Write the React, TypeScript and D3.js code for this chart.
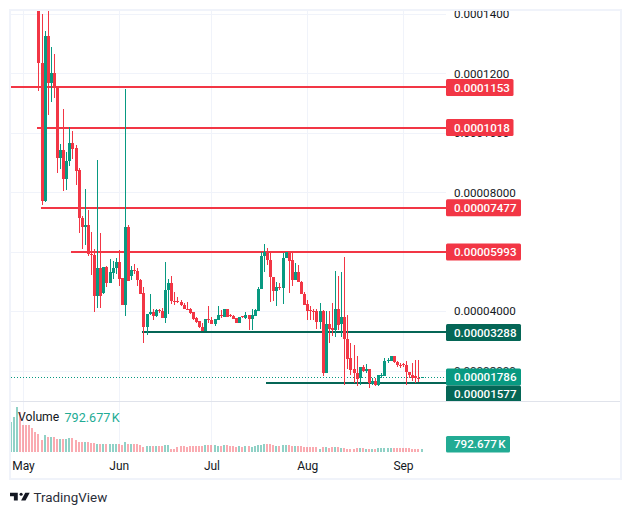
import React from "react";
import * as d3 from "d3";

// prices in millionths (1e-6); the first candle is May 6, one per day
const firstDay = new Date(Date.UTC(2024, 4, 6));
const opens = [141.5,123.5,77.1,132.6,116.7,120.1,115.1,91.5,94.2,84.4,90.5,96.6,94.9,87.5,71.3,68.3,69,59.2,58.9,45,54.5,46,54.8,49.4,52.8,54.5,56.5,51.1,42,68.3,51.8,53.8,53.5,50.4,46,34.6,39,39.7,38.3,40.3,40,37.6,47.1,49.4,43.4,43.4,43,42,40.7,40.7,39.7,37.6,36.6,34.6,33.3,37.3,37.1,35.6,37,38.6,38,40.7,38.6,38.3,37.6,36,38.3,37.6,38.6,37.3,38.3,40,47.4,58.5,59.9,57.2,51.4,46.7,48.1,47.7,57.8,59.9,57.2,50.4,53.1,49.7,45.7,42.3,40.3,40,40,36.3,40,19.1,35.6,34.3,33.6,40.7,35.6,38,30.6,24.2,20.5,19.1,17.4,21.1,19.8,20.5,15.4,16.4,15.1,18.1,18.1,23.2,23.2,24.8,22.8,21.8,22.1,21.8,19.5,18.4,18.1,17.4,17.4];
const highs = [145,140,134.3,145,128.9,126.5,115.1,96.2,108,93.5,101.9,100.6,95.9,88.1,72,81.1,74,66.6,60.9,90.8,66.3,54.8,55.1,57.5,56.8,57.8,60.5,51.1,114.7,69,55.1,55.8,54.5,50.8,48.1,39,45.7,40.7,40.7,40.7,41,56.5,50.8,51.8,46.4,44.7,43.7,42.7,43,41,39.7,38,36.6,36,37.3,41.7,38,37.3,41.7,40.3,40.7,40.7,39,38.6,37.6,38,38.3,39.7,38.6,40.7,40.7,48.1,59.9,62.6,61.2,59.9,51.4,49.7,49.4,59.5,59.9,59.9,59.9,56.2,55.5,50.1,46.4,43.7,41.7,40.7,40.7,42.7,40.3,40,40,42.7,53.5,51.8,53.1,58.2,38.6,29.2,28.5,24.8,21.1,21.8,22.1,20.5,17.4,17.4,18.4,19.1,24.2,24.2,24.8,24.8,23.2,22.5,22.5,23.2,19.5,22.5,23.5,23.5,17.9];
const lows = [114.1,75.7,76.7,106,110.4,111.7,86.5,87.8,80.4,80.7,88.8,91.2,82.4,66.3,60.9,62.2,58.5,52.1,39.7,41,41,45.7,48.1,49.4,50.8,52.4,48.4,42,38.3,50.1,50.4,52.4,48.4,45.7,29.2,31.9,38.6,37,38,39.3,37.6,36,39,42.3,42,42.7,41.7,40.7,40.3,39,37,36,34.3,33.3,33.3,36,35.6,35,37,37.6,38,38,38,37.4,36,36,37.6,37.3,33.6,33.6,38.3,40,47.4,53.1,55.5,43,43.4,41.7,47.1,42.3,57.8,46,48.4,50.4,49.7,45.7,42,37,37,37,34,34,18.1,19.1,29.2,31.6,31.2,33.6,31.2,15.1,20.5,18.4,15.7,14.7,15.1,19.5,19.1,14.1,15.1,14.7,14.7,17.4,18.1,22.5,23.2,22.5,21.1,20.8,21.1,15.1,17.4,16.4,15.7,16.1,17.4];
const closes = [123.5,77.1,132.6,116.7,120.1,115.1,91.5,94.2,84.4,90.5,96.6,94.5,87.1,71.3,68.3,69,59.2,58.9,45,54.5,45,54.8,49.4,53.1,54.5,56.5,50.8,42,68.3,50.1,53.8,53.5,50.4,45.7,34.6,39,39.7,38.3,40.3,40,37.6,47.1,49.4,43.4,43.2,43,42,40.7,40.3,39.3,37.3,36.3,34.6,33.3,37.3,37.1,35.6,37.3,38.6,38.3,40.7,38,38.3,37.4,36,38,38,38.6,37.3,38.6,40.3,47.4,58.5,59.9,57.2,51.4,46.7,48.1,47.7,57.8,59.9,56.8,50.4,53.1,49.7,45.7,42,40,40,39.7,36.3,40,19.1,35.6,34,33.6,40.7,35.3,38,30.6,23.8,20.1,19.1,17.1,21.1,19.8,20.5,15.7,16.4,15.1,18.4,18.4,23.2,23.5,24.8,22.8,21.8,21.5,21.8,19.5,18.4,17.4,17.4,17.3,17.86];

// volume in thousands; the first nine belong to candles above the visible price range
const earlierVolumesUp = [true,true,true,false,false,false,false,false,false];
const volumes = [7900,9200,11900,10600,7100,7100,7100,6300,5300,4750,3200,4500,3950,3950,3950,3430,3430,3430,3430,3700,3700,3170,2770,2770,2640,2640,2510,2380,2240,2110,2110,2110,2110,2110,2110,2110,1850,2640,2110,2110,2110,2110,1850,1320,1580,1580,1580,1580,1580,1580,1850,1850,790,790,1320,1580,1580,1320,1580,1580,1580,1580,1580,1850,1850,1850,1850,1580,1580,1850,1850,1580,1580,1320,1580,1320,1580,1580,1320,1580,1850,1850,2110,2110,2110,1850,1580,1580,1850,1850,1850,1580,1580,1580,1580,1320,1320,1320,1320,1320,790,1320,1320,1060,1320,1320,1320,1060,1060,790,790,790,1060,1060,1060,790,790,790,790,1060,1060,1060,1060,1060,1060,1060,1060,1060,1060,1060,790,790,790,792.677];

const axisTicks = [140, 120, 100, 80, 60, 40, 20];
const tickTexts = ["0.0001400","0.0001200","0.0001000","0.00008000","0.00006000","0.00004000","0.00002000"];
const levelPrices = [115.3, 101.8, 74.77, 59.93, 32.88, 15.77];
const levelTexts = ["0.0001153","0.0001018","0.00007477","0.00005993","0.00003288","0.00001577"];
const levelStartDays = [-4.2, 4.5, 5.8, 15.5, 38.5, 78.7];
const lastPrice = 17.86;
const lastPriceText = "0.00001786";
const lastVolumeText = "792.677\u202fK";
const monthDates = [new Date(Date.UTC(2024,4,1)),new Date(Date.UTC(2024,5,1)),new Date(Date.UTC(2024,6,1)),new Date(Date.UTC(2024,7,1)),new Date(Date.UTC(2024,8,1))];

const RED = "#f23645", GREEN = "#089981", DARK = "#056656", VOLG = "#22ab94", GRID = "#f0f3fa", INK = "#131722";
const FONT = "Roboto, 'Open Sans', sans-serif";

const L = 11, AXIS = 446, TOP = 10, PB = 401, VB = 452, B = 479, R = 620;

export default function App() {
  const x = d3.scaleUtc().domain([monthDates[0], monthDates[4]]).range([23, 403]);
  const y = d3.scaleLinear().domain([0, 140]).range([430.1, 14]);
  const v = d3.scaleLinear().domain([0, 11900]).range([VB, VB - 45]);
  const dayX = (i: number) => x(d3.utcDay.offset(firstDay, i) as Date);
  const cx = (i: number) => Math.round(dayX(i));
  const startX = (d: number) => x(new Date(monthDates[0].getTime() + d * 864e5));

  const labelH = 17;
  const labels = [
    ...levelPrices.slice(0, 5).map((p, i) => ({ p, t: levelTexts[i], c: i < 4 ? RED : DARK, w: levelTexts[i].length > 9 ? 75 : 67.5 })),
    { p: lastPrice, t: lastPriceText, c: GREEN, w: 75 },
    { p: levelPrices[5], t: levelTexts[5], c: DARK, w: 75 },
  ];
  let prevBottom = -Infinity;
  const placed = labels.map((l) => {
    const cy = Math.max(y(l.p), prevBottom + labelH / 2);
    prevBottom = cy + labelH / 2;
    return { ...l, cy };
  });

  return (
    <svg width={630} height={515} style={{ position: "fixed", left: 0, top: 0, background: "#fff" }} fontFamily={FONT}>
      <defs>
        <clipPath id="pp"><rect x={L} y={TOP + 0.5} width={AXIS - L} height={PB - TOP} /></clipPath>
        <clipPath id="ax"><rect x={AXIS} y={TOP + 0.5} width={R - AXIS} height={PB - TOP - 0.5} /></clipPath>
      </defs>

      {monthDates.map((d, i) => (
        <rect key={i} x={Math.round(x(d))} y={TOP} width={1} height={VB + 1 - TOP} fill={GRID} shapeRendering="crispEdges" />
      ))}
      {axisTicks.map((t) => (
        <rect key={t} x={L} y={Math.round(y(t))} width={AXIS - L} height={1} fill={GRID} shapeRendering="crispEdges" />
      ))}

      <g clipPath="url(#pp)">
        <line x1={L} x2={AXIS} y1={Math.round(y(lastPrice)) + 0.5} y2={Math.round(y(lastPrice)) + 0.5} stroke={GREEN} strokeDasharray="1 2" />
        {levelPrices.map((p, i) => (
          <rect key={p} x={Math.round(startX(levelStartDays[i]))} y={Math.round(y(p)) - 1} width={AXIS - Math.round(startX(levelStartDays[i]))} height={2}
            fill={i < 4 ? RED : DARK} shapeRendering="crispEdges" />
        ))}
        {opens.map((o, i) => {
          const c = closes[i] >= o ? GREEN : RED;
          const top = Math.round(y(Math.max(o, closes[i])));
          const bot = Math.round(y(Math.min(o, closes[i])));
          return (
            <g key={i} fill={c} shapeRendering="crispEdges">
              <rect x={cx(i)} y={Math.round(y(highs[i]))} width={1} height={Math.max(1, Math.round(y(lows[i])) - Math.round(y(highs[i])))} />
              <rect x={cx(i) - 1} y={top} width={3} height={Math.max(1, bot - top)} />
            </g>
          );
        })}
      </g>

      {volumes.map((vol, k) => {
        const i = k - earlierVolumesUp.length;
        const up = i < 0 ? earlierVolumesUp[k] : closes[i] >= opens[i];
        const t = Math.round(v(vol));
        return <rect key={k} x={cx(i) - 1} y={t} width={2} height={VB - t} fill={up ? GREEN : RED} fillOpacity={up ? 0.45 : 0.42} shapeRendering="crispEdges" />;
      })}

      <g clipPath="url(#ax)" fontSize={11.6} fill={INK}>
        {axisTicks.map((t, i) => (
          <text key={t} x={454} y={y(t)} dy="0.36em">{tickTexts[i]}</text>
        ))}
        {placed.map((l) => (
          <g key={l.t}>
            <rect x={AXIS} y={l.cy - labelH / 2} width={l.w} height={labelH} rx={1.5} fill={l.c} />
            <text x={454} y={l.cy} dy="0.36em" fill="#fff" fontWeight={500}>{l.t}</text>
          </g>
        ))}
      </g>

      <text x={18} y={417} dy="0.36em" fontSize={12.2} fill={INK}>Volume</text>
      <text x={64.5} y={417} dy="0.36em" fontSize={12.6} fill={VOLG}>792.677{"\u202f"}K</text>
      <rect x={AXIS} y={436} width={64} height={16.5} rx={1.5} fill={VOLG} />
      <text x={454} y={444} dy="0.36em" fontSize={11.6} fontWeight={500} fill="#fff">{lastVolumeText}</text>

      {monthDates.map((d, i) => (
        <text key={i} x={x(d) + 0.5} y={466} dy="0.36em" textAnchor="middle" fontSize={12} fill={INK}>{d3.utcFormat("%b")(d)}</text>
      ))}

      {/* panel frame */}
      <g fill={GRID} shapeRendering="crispEdges">
        <rect x={9} y={9} width={R + 2 - 9} height={2} />
        <rect x={9} y={B - 1} width={R + 2 - 9} height={2} />
        <rect x={9} y={9} width={2} height={B + 1 - 9} />
        <rect x={R} y={9} width={2} height={B + 1 - 9} />
      </g>
      <rect x={L} y={PB} width={R - L} height={1} fill="#e0e3eb" shapeRendering="crispEdges" />

      {/* wordmark */}
      <g transform="translate(10,489.5) scale(0.555)" fill="#131722">
        <path d="M14 6H0v6h7v8h7V6Z" />
        <circle cx="20" cy="8.5" r="2.8" />
        <path d="M28 20h-8l7.5-14h8L28 20Z" />
      </g>
      <text x={33.5} y={497} dy="0.36em" fontSize={13.4} fill="#2a2e39">TradingView</text>
    </svg>
  );
}
